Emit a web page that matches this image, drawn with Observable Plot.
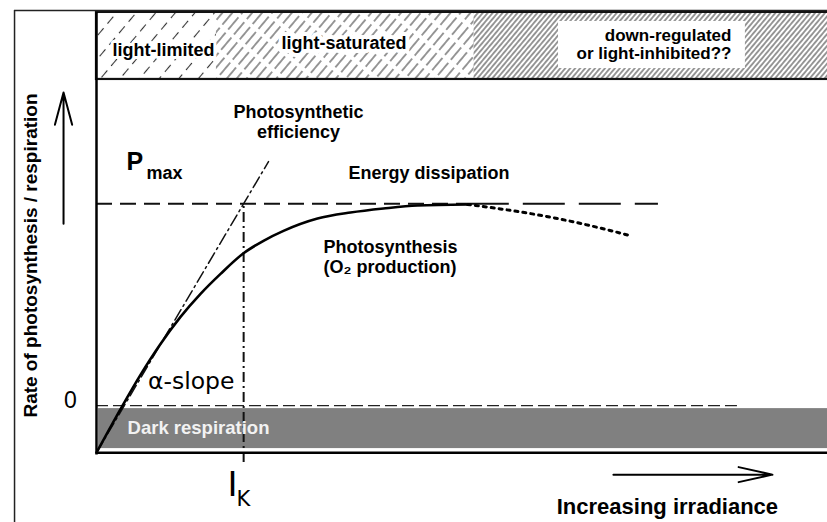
<!DOCTYPE html>
<html><head><meta charset="utf-8">
<script src="https://cdn.jsdelivr.net/npm/d3@7"></script>
<script src="https://cdn.jsdelivr.net/npm/@observablehq/plot@0.6"></script>
<style>body{margin:0;background:#fff;} #chart svg{display:block;}</style>
</head><body>
<svg width="0" height="0" style="position:absolute">
<defs>
<pattern id="hatchSparse" width="15" height="15" patternUnits="userSpaceOnUse" patternTransform="rotate(40)">
  <line x1="7.5" y1="0" x2="7.5" y2="15" stroke="#333" stroke-width="1.1" stroke-dasharray="9,6"/>
</pattern>
<pattern id="hatchMid" width="7.6" height="20" patternUnits="userSpaceOnUse" patternTransform="rotate(40)">
  <line x1="3.8" y1="0" x2="3.8" y2="20" stroke="#333" stroke-width="1" stroke-dasharray="16,4"/>
</pattern>
<pattern id="hatchDense" width="3.8" height="10" patternUnits="userSpaceOnUse" patternTransform="rotate(40)">
  <line x1="1.9" y1="0" x2="1.9" y2="10" stroke="#333" stroke-width="1"/>
</pattern>
</defs></svg>
<div id="chart"></div>
<script>
// ---- data (irradiance units: I_K = 100; rate units: P_max = 100) ----
const Pmax = 100;
const Ik = 100;
const darkResp = -23.3;
const curveIrr = [0, 17.7, 29.9, 43.5, 57.1, 70.7, 84.3, 99.9, 113.5, 127.1, 150.2, 172.6, 195.0, 218.1, 252.1];
const curveRate = [-23.3, 0, 15.2, 30.5, 43.9, 55.3, 65.2, 75.4, 81.6, 86.5, 92.6, 95.6, 97.6, 99.1, 99.6];
const declineIrr = [252.1, 274.5, 308.5, 342.5, 362.9];
const declineRate = [99.6, 97.4, 93.3, 87.9, 84.1];
const alphaIrr = [0, 116.9];
const alphaRate = [-23.3, 120.8];
const zoneNames = ["light-limited", "light-saturated", "down-regulated\nor light-inhibited??"];
const zoneStart = [0, 81.5, 256.6];
const zoneEnd = [81.5, 256.6, 500];
const zoneFill = ["url(#hatchSparse)", "url(#hatchMid)", "url(#hatchDense)"];
const bandLow = 161.5, bandHigh = 194.7;
const frameX = -55.7, frameY = 195.6;
const respBandLow = -21.3, respBandHigh = -1.5;
const pmaxLineEnd = 381.9, zeroLineEnd = 435.6, ikLineLow = -28.2;

const curve = curveIrr.map((x, i) => ({x, y: curveRate[i]}));
const decline = declineIrr.map((x, i) => ({x, y: declineRate[i]}));
const alpha = alphaIrr.map((x, i) => ({x, y: alphaRate[i]}));

const arial = "Liberation Sans, Arial, Helvetica, sans-serif";
const dejavu = "DejaVu Sans, Verdana, sans-serif";

const marks = [];
// top band zones
zoneNames.forEach((n, i) => {
  marks.push(Plot.rect([n], {x1: zoneStart[i], x2: zoneEnd[i], y1: bandLow, y2: bandHigh, fill: zoneFill[i]}));
});
marks.push(Plot.rect([0], {x1: 314, x2: 441, y1: 166.9, y2: 190.2, fill: "white"}));
marks.push(Plot.rect([0], {x1: 0, x2: 500, y1: bandLow, y2: bandHigh, fill: "none", stroke: "#111", strokeWidth: 2.2}));
// outer frame
marks.push(Plot.ruleX([frameX], {y1: -70, y2: frameY, stroke: "#222", strokeWidth: 1.5}));
marks.push(Plot.ruleY([frameY], {x1: frameX, x2: 500, stroke: "#222", strokeWidth: 1.5}));
// dark respiration band
marks.push(Plot.rect([0], {x1: 1.4, x2: 500, y1: respBandLow, y2: respBandHigh, fill: "#808080"}));
// reference lines
marks.push(Plot.ruleY([0], {x1: 0, x2: zeroLineEnd, stroke: "#222", strokeWidth: 1.3, strokeDasharray: "12,5"}));
marks.push(Plot.ruleY([Pmax], {x1: 0, x2: 252, stroke: "#111", strokeWidth: 2, strokeDasharray: "16,8"}));
marks.push(Plot.ruleY([Pmax], {x1: 252, x2: pmaxLineEnd, stroke: "#111", strokeWidth: 2, strokeDasharray: "42,14"}));
marks.push(Plot.ruleX([Ik], {y1: ikLineLow, y2: Pmax, stroke: "#111", strokeWidth: 2, strokeDasharray: "10,4,2,4"}));
marks.push(Plot.line(alpha, {x: "x", y: "y", stroke: "#111", strokeWidth: 1.5, strokeDasharray: "12,4,2,4"}));
// P-I curve
marks.push(Plot.line(curve, {x: "x", y: "y", curve: "monotone-x", stroke: "#000", strokeWidth: 2.6}));
marks.push(Plot.line(decline, {x: "x", y: "y", curve: "monotone-x", stroke: "#000", strokeWidth: 3, strokeDasharray: "3,5"}));
// axes lines
marks.push(Plot.ruleX([0], {y1: darkResp - 1.2, y2: bandHigh, stroke: "#000", strokeWidth: 2.5}));
marks.push(Plot.ruleY([darkResp], {x1: 0, x2: 500, stroke: "#000", strokeWidth: 2.5}));
// arrows
marks.push(Plot.arrow([0], {x1: -22.4, y1: 90.1, x2: -22.4, y2: 155.0, stroke: "#000", strokeWidth: 2, headLength: 25, headAngle: 30}));
marks.push(Plot.arrow([0], {x1: 351.3, y1: -34.2, x2: 459.4, y2: -34.2, stroke: "#000", strokeWidth: 2, headLength: 26, headAngle: 25}));
// texts
const T = (text, x, y, o) => Plot.text([text], {text: d => d, x, y, fontFamily: arial, fontWeight: "bold", fontSize: 18, fill: "#000", ...o});
marks.push(T(zoneNames[0], 45.5, 175.8, {stroke: "white", strokeWidth: 6}));
marks.push(T(zoneNames[1], 168.2, 179.2, {stroke: "white", strokeWidth: 8}));
marks.push(T(zoneNames[2], 431.5, 179.0, {textAnchor: "end", fontSize: 17, lineHeight: 1.06}));
marks.push(T("Photosynthetic\nefficiency", 137.3, 140.6, {lineHeight: 1.11}));
marks.push(T("Energy dissipation", 171.3, 115.3, {textAnchor: "start"}));
marks.push(T("Photosynthesis\n(O₂ production)", 154.3, 73.7, {textAnchor: "start", lineHeight: 1.11}));
marks.push(T("P", 20.4, 120.4, {textAnchor: "start", fontSize: 25}));
marks.push(T("max", 34.0, 115.3, {textAnchor: "start", fontSize: 18}));
marks.push(T("α-slope", 35.0, 11.9, {textAnchor: "start", fontSize: 23.5, fontWeight: "normal", fontFamily: dejavu}));
marks.push(T("I", 92.4, -39.2, {fontSize: 34, fontWeight: "normal", fontFamily: dejavu}));
marks.push(T("K", 95.1, -46.2, {textAnchor: "start", fontSize: 21, fontWeight: "normal", fontFamily: dejavu}));
marks.push(T("0", -17.7, 2.5, {fontSize: 23, fontWeight: "normal"}));
marks.push(T("Rate of photosynthesis / respiration", -44.9, 74.3, {rotate: -90, fontSize: 19}));
marks.push(T("Increasing irradiance", 388.0, -50.0, {fontSize: 22}));
marks.push(T("Dark respiration", 21.1, -10.9, {textAnchor: "start", fontSize: 18.5, fill: "#f2f2f2"}));

const chart = Plot.plot({
  width: 827,
  height: 522,
  margin: 0,
  x: {domain: [-65.24, 496.8], axis: null},
  y: {domain: [-57.9, 200.6], axis: null},
  style: {background: "white", overflow: "visible"},
  marks
});
document.getElementById("chart").appendChild(chart);
</script>
</body></html>
